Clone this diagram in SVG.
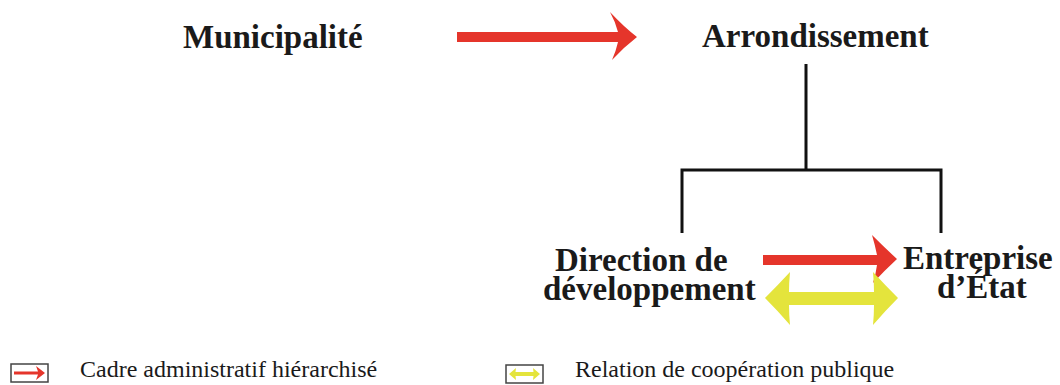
<svg xmlns="http://www.w3.org/2000/svg" width="1060" height="385" viewBox="0 0 1060 385">
<style>
text{font-family:'Liberation Serif','DejaVu Serif','Times New Roman',serif}
.node{font-weight:bold;font-size:33px;fill:#1a1a1a}
.leg{font-size:24px;fill:#1a1a1a}
.tree{stroke:#111;stroke-width:3;fill:none}
.red{fill:#e5352b}
.yel{fill:#e4e43c}
.box{fill:#fff;stroke:#444;stroke-width:1.5}
</style>
<rect width="1060" height="385" fill="#fff"/>
<g id="connectors">
  <path class="red" d="M457,32 L618,32 Q615,21 610,12 Q624,27 637,37 Q624,47 612,60 Q616,51 618,42 L457,42 Z"/>
  <path class="tree" d="M806,64 V170 M682,233 V170 H941 V233"/>
  <path class="red" d="M763,255 L877,255 Q875,245 872,235 Q885,248 897,259 Q885,270 873,283 Q876,273 877,265 L763,265 Z"/>
  <path class="yel" d="M765,298 Q778,285 790,272 Q789,283 789,292 L874,292 Q874,283 873,272 Q885,285 898,298 Q885,311 873,325 Q874,314 874,305 L789,305 Q789,314 790,325 Q778,311 765,298 Z"/>
</g>
<g id="municipalite"><text class="node" x="183" y="48" font-family="Liberation Serif, serif">Municipalité</text></g>
<g id="arrondissement"><text class="node" x="702" y="47" font-family="Liberation Serif, serif">Arrondissement</text></g>
<g id="direction"><text class="node" x="555" y="271" font-family="Liberation Serif, serif">Direction de</text><text class="node" x="543" y="300" font-family="Liberation Serif, serif">développement</text></g>
<g id="entreprise"><text class="node" x="903" y="269" font-family="Liberation Serif, serif">Entreprise</text><text class="node" x="937" y="298" font-family="Liberation Serif, serif">d’État</text></g>
<g id="legend">
  <rect class="box" x="11" y="364" width="37" height="18"/>
  <path class="red" d="M14,371.5 L38,371.5 L36,366 L45,373 L36,380 L38,374.5 L14,374.5 Z"/>
  <text class="leg" x="80" y="377" font-family="Liberation Serif, serif">Cadre administratif hiérarchisé</text>
  <rect class="box" x="506" y="365" width="37" height="18"/>
  <path class="yel" d="M509,374 L516,368 L515.5,372 L533.5,372 L533,368 L540,374 L533,380 L533.5,376 L515.5,376 L516,380 Z"/>
  <text class="leg" x="575" y="377" font-family="Liberation Serif, serif">Relation de coopération publique</text>
</g>
</svg>
